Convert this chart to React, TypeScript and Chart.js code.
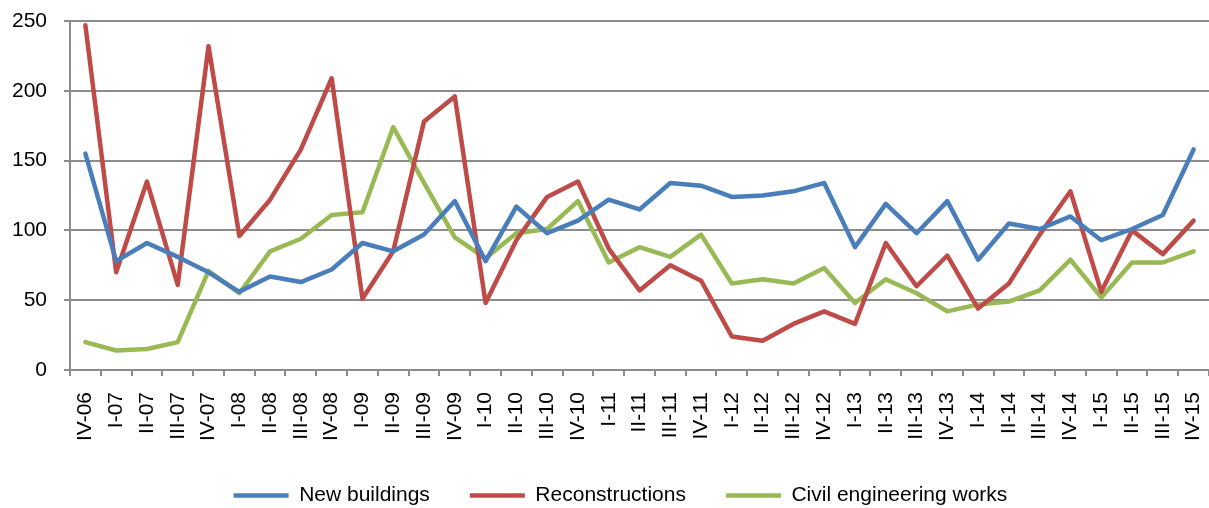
import React, { useEffect, useRef } from "react";
import { Chart, registerables } from "chart.js";

Chart.register(...registerables);

const categories = [
  "IV-06", "I-07", "II-07", "III-07", "IV-07", "I-08", "II-08", "III-08", "IV-08",
  "I-09", "II-09", "III-09", "IV-09", "I-10", "II-10", "III-10", "IV-10",
  "I-11", "II-11", "III-11", "IV-11", "I-12", "II-12", "III-12", "IV-12",
  "I-13", "II-13", "III-13", "IV-13", "I-14", "II-14", "III-14", "IV-14",
  "I-15", "II-15", "III-15", "IV-15",
];

const newBuildings = [
  155, 78, 91, 81, 70, 56, 67, 63, 72, 91, 85, 97, 121, 78, 117, 98, 107, 122, 115,
  134, 132, 124, 125, 128, 134, 88, 119, 98, 121, 79, 105, 101, 110, 93, 101, 111, 158,
];

const reconstructions = [
  247, 70, 135, 61, 232, 96, 122, 158, 209, 51, 85, 178, 196, 48, 93, 124, 135, 87, 57,
  75, 64, 24, 21, 33, 42, 33, 91, 60, 82, 44, 62, 97, 128, 56, 100, 83, 107,
];

const civilEngineering = [
  20, 14, 15, 20, 71, 55, 85, 94, 111, 113, 174, 134, 95, 80, 98, 101, 121, 77, 88,
  81, 97, 62, 65, 62, 73, 48, 65, 55, 42, 47, 49, 57, 79, 52, 77, 77, 85,
];

const yTicks = [0, 50, 100, 150, 200, 250];

const FONT = "'Liberation Sans', Arial, sans-serif";
const GRID = "#8c8c8c";

const legendShift = {
  id: "legendShift",
  afterLayout(chart: any) {
    const lg = chart.legend;
    if (lg) {
      lg.left += 16;
      lg.right += 16;
    }
  },
};

export default function App() {
  const ref = useRef<HTMLCanvasElement | null>(null);

  useEffect(() => {
    if (!ref.current) return;
    const line = (label: string, data: number[], color: string) => ({
      label,
      data,
      borderColor: color,
      backgroundColor: color,
      borderWidth: 4.5,
      pointRadius: 0,
      pointHoverRadius: 0,
      tension: 0,
      borderCapStyle: "round" as const,
      borderJoinStyle: "round" as const,
      fill: false,
    });
    const chart = new Chart(ref.current, {
      type: "line",
      data: {
        labels: categories,
        datasets: [
          line("New buildings", newBuildings, "#4A7EBB"),
          line("Reconstructions", reconstructions, "#BE4B48"),
          line("Civil engineering works", civilEngineering, "#98B954"),
        ],
      },
      plugins: [legendShift],
      options: {
        animation: false,
        responsive: true,
        maintainAspectRatio: false,
        layout: { padding: { top: 21, right: 0, left: 0, bottom: 0 } },
        plugins: {
          tooltip: { enabled: false },
          legend: {
            position: "bottom",
            labels: {
              usePointStyle: true,
              pointStyle: "line",
              pointStyleWidth: 55,
              boxHeight: 21,
              padding: 40,
              color: "#000",
              font: { family: FONT, size: 21 },
            },
          },
        },
        scales: {
          x: {
            offset: true,
            grid: {
              offset: true,
              drawOnChartArea: false,
              drawTicks: true,
              tickLength: 6,
              color: GRID,
              lineWidth: 2,
            },
            border: { display: true, color: GRID, width: 2 },
            ticks: {
              autoSkip: false,
              minRotation: 90,
              maxRotation: 90,
              padding: 16,
              color: "#000",
              font: { family: FONT, size: 21 },
            },
            afterFit: (s: any) => {
              s.height = 75;
              s.paddingLeft = 0;
              s.paddingRight = 0;
            },
          },
          y: {
            min: 0,
            max: 250,
            afterBuildTicks: (s: any) => {
              s.ticks = yTicks.map((v) => ({ value: v }));
            },
            grid: {
              drawOnChartArea: true,
              drawTicks: true,
              tickLength: 6,
              color: GRID,
              lineWidth: 2,
            },
            border: { display: true, color: GRID, width: 2 },
            ticks: {
              padding: 17,
              color: "#000",
              font: { family: FONT, size: 21 },
            },
            afterFit: (s: any) => {
              s.width = 70;
              s.paddingTop = 0;
              s.paddingBottom = 0;
            },
          },
        },
      },
    });
    return () => chart.destroy();
  }, []);

  return (
    <div
      style={{
        position: "fixed",
        left: 0,
        top: 0,
        width: 1209,
        height: 508,
        overflow: "hidden",
        background: "#fff",
      }}
    >
      <div style={{ position: "relative", width: 1209, height: 516 }}>
        <canvas ref={ref} />
      </div>
    </div>
  );
}
